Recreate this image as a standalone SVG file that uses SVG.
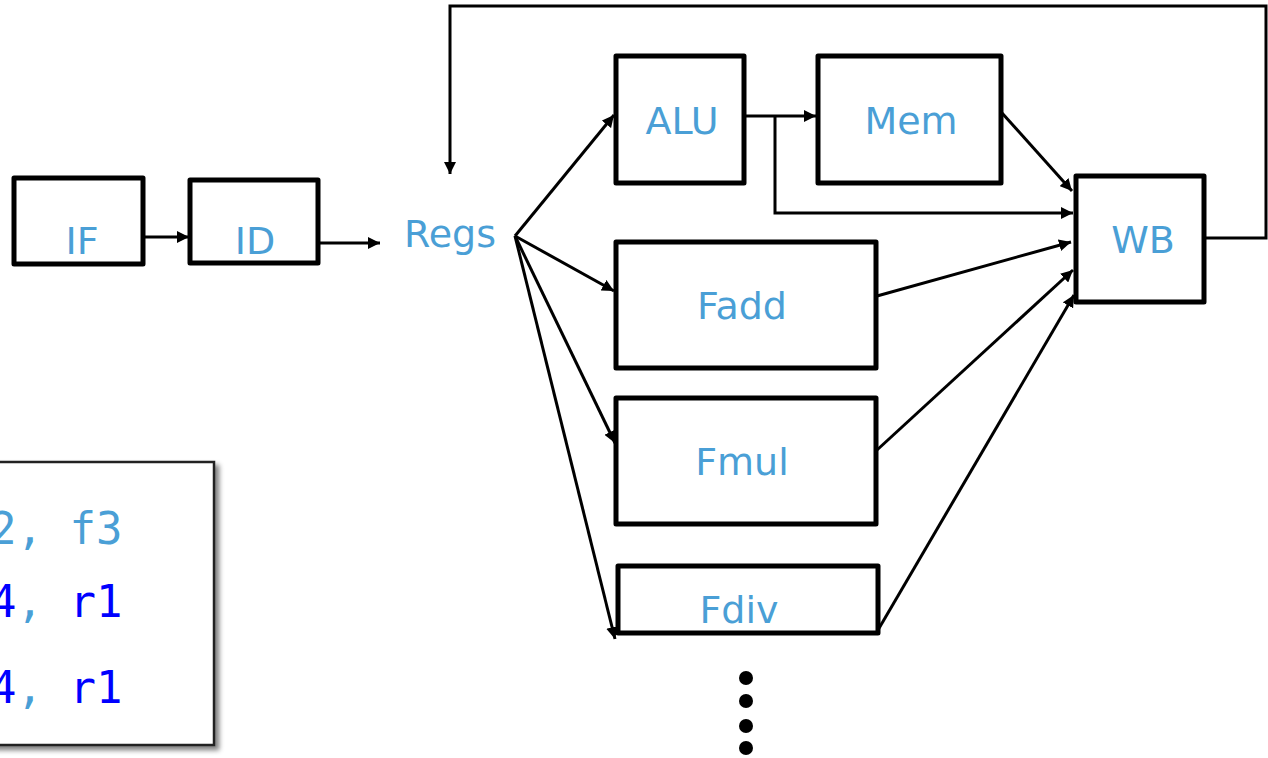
<svg xmlns="http://www.w3.org/2000/svg" width="1268" height="758" viewBox="0 0 1268 758">
  <defs>
    <marker id="arr" viewBox="0 0 10 10" refX="10" refY="5" markerWidth="4" markerHeight="4" markerUnits="strokeWidth" orient="auto">
      <path d="M0,0 L10,5 L0,10 z" fill="#000"/>
    </marker>
    <filter id="shadow" x="-10%" y="-10%" width="130%" height="130%">
      <feGaussianBlur in="SourceAlpha" stdDeviation="2.5"/>
      <feOffset dx="4" dy="4" result="b"/>
      <feComponentTransfer><feFuncA type="linear" slope="0.5"/></feComponentTransfer>
      <feMerge><feMergeNode/><feMergeNode in="SourceGraphic"/></feMerge>
    </filter>
    <style>
      .box { fill: #fff; stroke: #000; stroke-width: 5; stroke-linejoin: round; }
      .lbl { font-family: "DejaVu Sans", Verdana, sans-serif; font-size: 38px; fill: #4a9fd6; text-anchor: middle; }
      .wire { fill: none; stroke: #000; stroke-width: 3; }
      .code { font-family: "DejaVu Sans Mono", "Liberation Mono", monospace; font-size: 44px; }
      .lb { fill: #4a9fd6; }
      .db { fill: #0000ff; }
    </style>
  </defs>

  <!-- instruction listing panel -->
  <g id="code">
    <rect x="-20" y="462" width="234" height="283" fill="#fff" stroke="#222" stroke-width="2.5" filter="url(#shadow)"/>
    <text class="code" x="-10" y="544"><tspan class="lb">2, f3</tspan></text>
    <text class="code" x="-10" y="617"><tspan class="db">4</tspan><tspan class="lb">, </tspan><tspan class="db">r1</tspan></text>
    <text class="code" x="-10" y="703"><tspan class="db">4</tspan><tspan class="lb">, </tspan><tspan class="db">r1</tspan></text>
  </g>

  <!-- pipeline connectors -->
  <g id="connectors">
    <line class="wire" x1="144" y1="237" x2="189" y2="237" marker-end="url(#arr)"/>
    <line class="wire" x1="319" y1="243" x2="380" y2="243" marker-end="url(#arr)"/>
    <!-- register fan-out -->
    <line class="wire" x1="515" y1="236" x2="614" y2="115" marker-end="url(#arr)"/>
    <line class="wire" x1="515" y1="236" x2="614" y2="291" marker-end="url(#arr)"/>
    <line class="wire" x1="515" y1="236" x2="615" y2="443" marker-end="url(#arr)"/>
    <line class="wire" x1="515" y1="236" x2="615" y2="639" marker-end="url(#arr)"/>
    <!-- ALU output and bypass -->
    <line class="wire" x1="745" y1="116" x2="816" y2="116" marker-end="url(#arr)"/>
    <polyline class="wire" points="775,116 775,213 1073,213" marker-end="url(#arr)"/>
    <!-- into write-back -->
    <line class="wire" x1="1002" y1="113" x2="1072" y2="191" marker-end="url(#arr)"/>
    <line class="wire" x1="877" y1="296" x2="1071" y2="242" marker-end="url(#arr)"/>
    <line class="wire" x1="877" y1="450" x2="1073" y2="270" marker-end="url(#arr)"/>
    <line class="wire" x1="878" y1="630" x2="1074" y2="295" marker-end="url(#arr)"/>
    <!-- write-back feedback to register file -->
    <polyline class="wire" points="1205,238 1266,238 1266,6 450,6 450,174" marker-end="url(#arr)"/>
  </g>

  <g id="if">
    <rect class="box" x="14" y="178" width="129" height="86"/>
    <text class="lbl" x="82" y="254">IF</text>
  </g>
  <g id="id">
    <rect class="box" x="190" y="180" width="128" height="83"/>
    <text class="lbl" x="255" y="254">ID</text>
  </g>
  <g id="regs">
    <text class="lbl" x="450" y="247">Regs</text>
  </g>
  <g id="alu">
    <rect class="box" x="616" y="56" width="128" height="127"/>
    <text class="lbl" x="682" y="134">ALU</text>
  </g>
  <g id="mem">
    <rect class="box" x="818" y="56" width="183" height="127"/>
    <text class="lbl" x="911" y="134">Mem</text>
  </g>
  <g id="wb">
    <rect class="box" x="1076" y="176" width="128" height="126"/>
    <text class="lbl" x="1143" y="253">WB</text>
  </g>
  <g id="fadd">
    <rect class="box" x="616" y="242" width="260" height="126"/>
    <text class="lbl" x="742" y="319">Fadd</text>
  </g>
  <g id="fmul">
    <rect class="box" x="616" y="398" width="260" height="126"/>
    <text class="lbl" x="742" y="475">Fmul</text>
  </g>
  <g id="fdiv">
    <rect class="box" x="618" y="566" width="260" height="67"/>
    <text class="lbl" x="739" y="623">Fdiv</text>
  </g>
  <g id="more">
    <circle cx="746" cy="678" r="7"/>
    <circle cx="746" cy="701" r="7"/>
    <circle cx="746" cy="726" r="7"/>
    <circle cx="746" cy="748" r="7"/>
  </g>
</svg>
